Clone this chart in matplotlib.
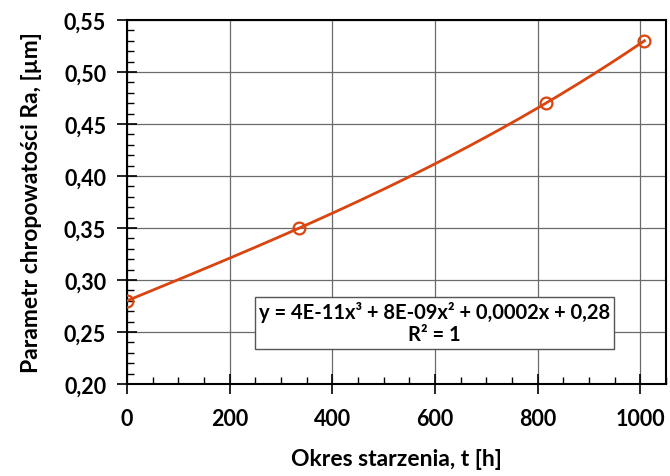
import numpy as np
import matplotlib.pyplot as plt
from matplotlib.ticker import MultipleLocator, FuncFormatter

# Measured roughness vs ageing time
t_hours = [0, 336, 816, 1008]
ra_um = [0.28, 0.35, 0.47, 0.53]

equation = "y = 4E-11x³ + 8E-09x² + 0,0002x + 0,28\nR² = 1"

color = '#D9440F'
plt.rcParams['font.family'] = ['Lato', 'DejaVu Sans']

fig = plt.figure(figsize=(6.7, 4.77), dpi=100)
ax = fig.add_axes([0.1896, 0.193, 0.8044, 0.763])

# Cubic trendline through the points
coef = np.polyfit(t_hours, ra_um, 3)
xs = np.linspace(min(t_hours), max(t_hours), 200)
ax.plot(xs, np.polyval(coef, xs), color=color, lw=2.0, zorder=3)
ax.plot(t_hours, ra_um, 'o', mfc='none', mec=color, mew=1.6, ms=8.5, zorder=4)

ax.set_xlim(0, 1050)
ax.set_ylim(0.20, 0.55)
ax.xaxis.set_major_locator(MultipleLocator(200))
ax.xaxis.set_minor_locator(MultipleLocator(50))
ax.yaxis.set_major_locator(MultipleLocator(0.05))
ax.yaxis.set_minor_locator(MultipleLocator(0.01))
ax.yaxis.set_major_formatter(FuncFormatter(lambda v, p: f"{v:.2f}".replace('.', ',')))
ax.xaxis.set_major_formatter(FuncFormatter(lambda v, p: f"{v:.0f}"))

ax.grid(True, which='major', color='#6a6a6a', lw=0.9)
ax.set_axisbelow(True)
ax.tick_params(which='major', direction='inout', length=14, width=1.2,
               labelsize=15.5, color='black')
ax.tick_params(which='minor', direction='in', length=5, width=1.0, color='black')
ax.tick_params(axis='x', which='major', pad=10)
ax.tick_params(axis='y', which='major', pad=8)
for lab in ax.get_xticklabels() + ax.get_yticklabels():
    lab.set_fontweight('bold')
for s in ax.spines.values():
    s.set_linewidth(1.5)
    s.set_color('black')

ax.set_xlabel("Okres starzenia, t [h]", fontsize=16.5, fontweight='bold', labelpad=14)
ax.set_ylabel("Parametr chropowatości Ra, [µm]", fontsize=16.5, fontweight='bold', labelpad=16)

ax.text(0.571, 0.168, equation, transform=ax.transAxes, ha='center', va='center',
        fontsize=14.5, fontweight='bold', linespacing=1.15, zorder=5,
        bbox=dict(boxstyle='square,pad=0.2', fc='white', ec='#555555', lw=1.0))

fig.savefig('out.png', dpi=100)
